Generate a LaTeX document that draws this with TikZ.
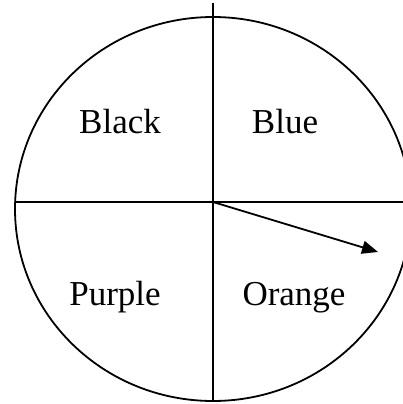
\documentclass[tikz,border=0pt]{standalone}
\usepackage{fontspec}
\setmainfont{Liberation Serif}
\usetikzlibrary{arrows.meta}
\begin{document}
\begin{tikzpicture}[x=1pt,y=-1pt,
  ln/.style={line width=1.8pt,black},
  lbl/.style={anchor=base,inner sep=0pt,font=\fontsize{35}{40}\selectfont}]
\useasboundingbox (0,0) rectangle (403,404);
\begin{scope}
\clip (0,0) rectangle (403,404);
\draw[ln] (213,209) ellipse [x radius=198, y radius=192];
\coordinate (c) at (213,202);
\coordinate (top) at (213,3);
\coordinate (bot) at (213,401);
\coordinate (lft) at (15,202);
\coordinate (rgt) at (403,202);
\coordinate (tip) at (378,252);
\draw[ln] (top) -- (bot);
\draw[ln] (lft) -- (rgt);
\draw[ln,-{Triangle[length=16pt,width=13pt]}] (c) -- (tip);
\end{scope}
\node[lbl] (black) at (120,133.3) {Black};
\node[lbl] (blue) at (285,133.3) {Blue};
\node[lbl] (purple) at (115,305) {Purple};
\node[lbl] (orange) at (294,305) {Orange};
\end{tikzpicture}
\end{document}
